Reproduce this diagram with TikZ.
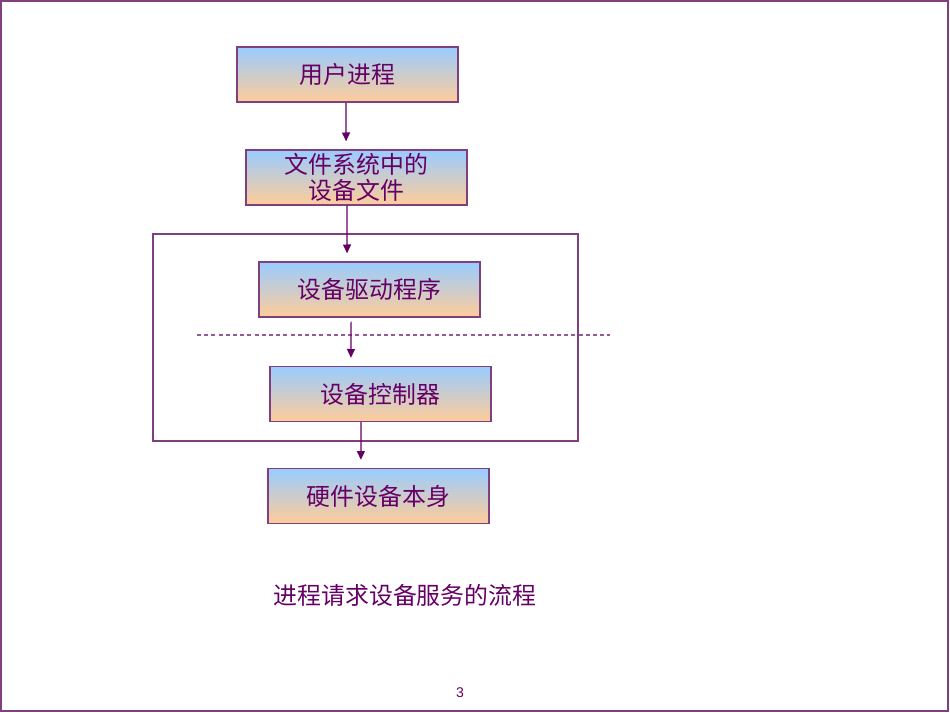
\documentclass[tikz,border=0pt]{standalone}
\usepackage{fontspec}
\usetikzlibrary{arrows.meta}
\setmainfont{Noto Sans CJK SC}
\newfontfamily\numfont{Liberation Sans}
\definecolor{zise}{RGB}{102,0,102}
\definecolor{biankuang}{RGB}{128,64,128}
\definecolor{xuxian}{RGB}{150,90,150}
\definecolor{lanse}{RGB}{153,204,255}
\definecolor{chengse}{RGB}{255,204,153}
\begin{document}
\begin{tikzpicture}[x=0.25mm, y=-0.25mm,
    kuai/.style={rectangle, draw=biankuang, line width=0.35mm, top color=lanse, bottom color=chengse,
      minimum width=55.25mm, minimum height=13.75mm, text=zise, font=\fontsize{17}{20}\selectfont, align=center},
    jiantou/.style={-{Triangle[length=2.2mm, width=2mm]}, draw=zise, line width=0.3mm, shorten >=2mm}]
    \useasboundingbox (0,0) rectangle (950,713);
    % Cadre de la page
    \draw[biankuang, line width=0.4mm] (1,1) rectangle (948,711);

    % Les blocs du flux
    \node[kuai] (yonghu) at (347.5, 74.5) {用户进程};
    \node[kuai, inner sep=0.3mm, font=\fontsize{17}{19}\selectfont] (wenjian) at (356.5, 177.5) {文件系统中的\\设备文件};
    \node[kuai] (qudong) at (369.5, 289.5) {设备驱动程序};
    \node[kuai] (kongzhi) at (380.5, 394) {设备控制器};
    \node[kuai] (yingjian) at (378.5, 496) {硬件设备本身};

    % Cadre autour du pilote et du contrôleur
    \draw[biankuang, line width=0.35mm] (153,234) rectangle (578,441);
    \draw[xuxian, line width=0.3mm, dash pattern=on 1mm off 0.8mm] (197,335) -- (610,335);

    % Flèches entre les blocs
    \draw[jiantou] ([xshift=-0.4mm]yonghu.south) -- ([xshift=-2.6mm]wenjian.north);
    \draw[jiantou] ([xshift=-2.4mm]wenjian.south) -- ([xshift=-5.6mm]qudong.north);
    \draw[jiantou] ([xshift=-4.6mm, yshift=-1mm]qudong.south) -- ([xshift=-7.4mm]kongzhi.north);
    \draw[jiantou] ([xshift=-4.9mm]kongzhi.south) -- ([xshift=-4.4mm]yingjian.north);

    % Légende et numéro de page
    \node[text=zise, font=\fontsize{17}{20}\selectfont] (biaoti) at (405, 595) {进程请求设备服务的流程};
    \node[text=zise, font=\numfont\fontsize{10}{12}\selectfont] (yema) at (460, 693) {3};
\end{tikzpicture}
\end{document}
